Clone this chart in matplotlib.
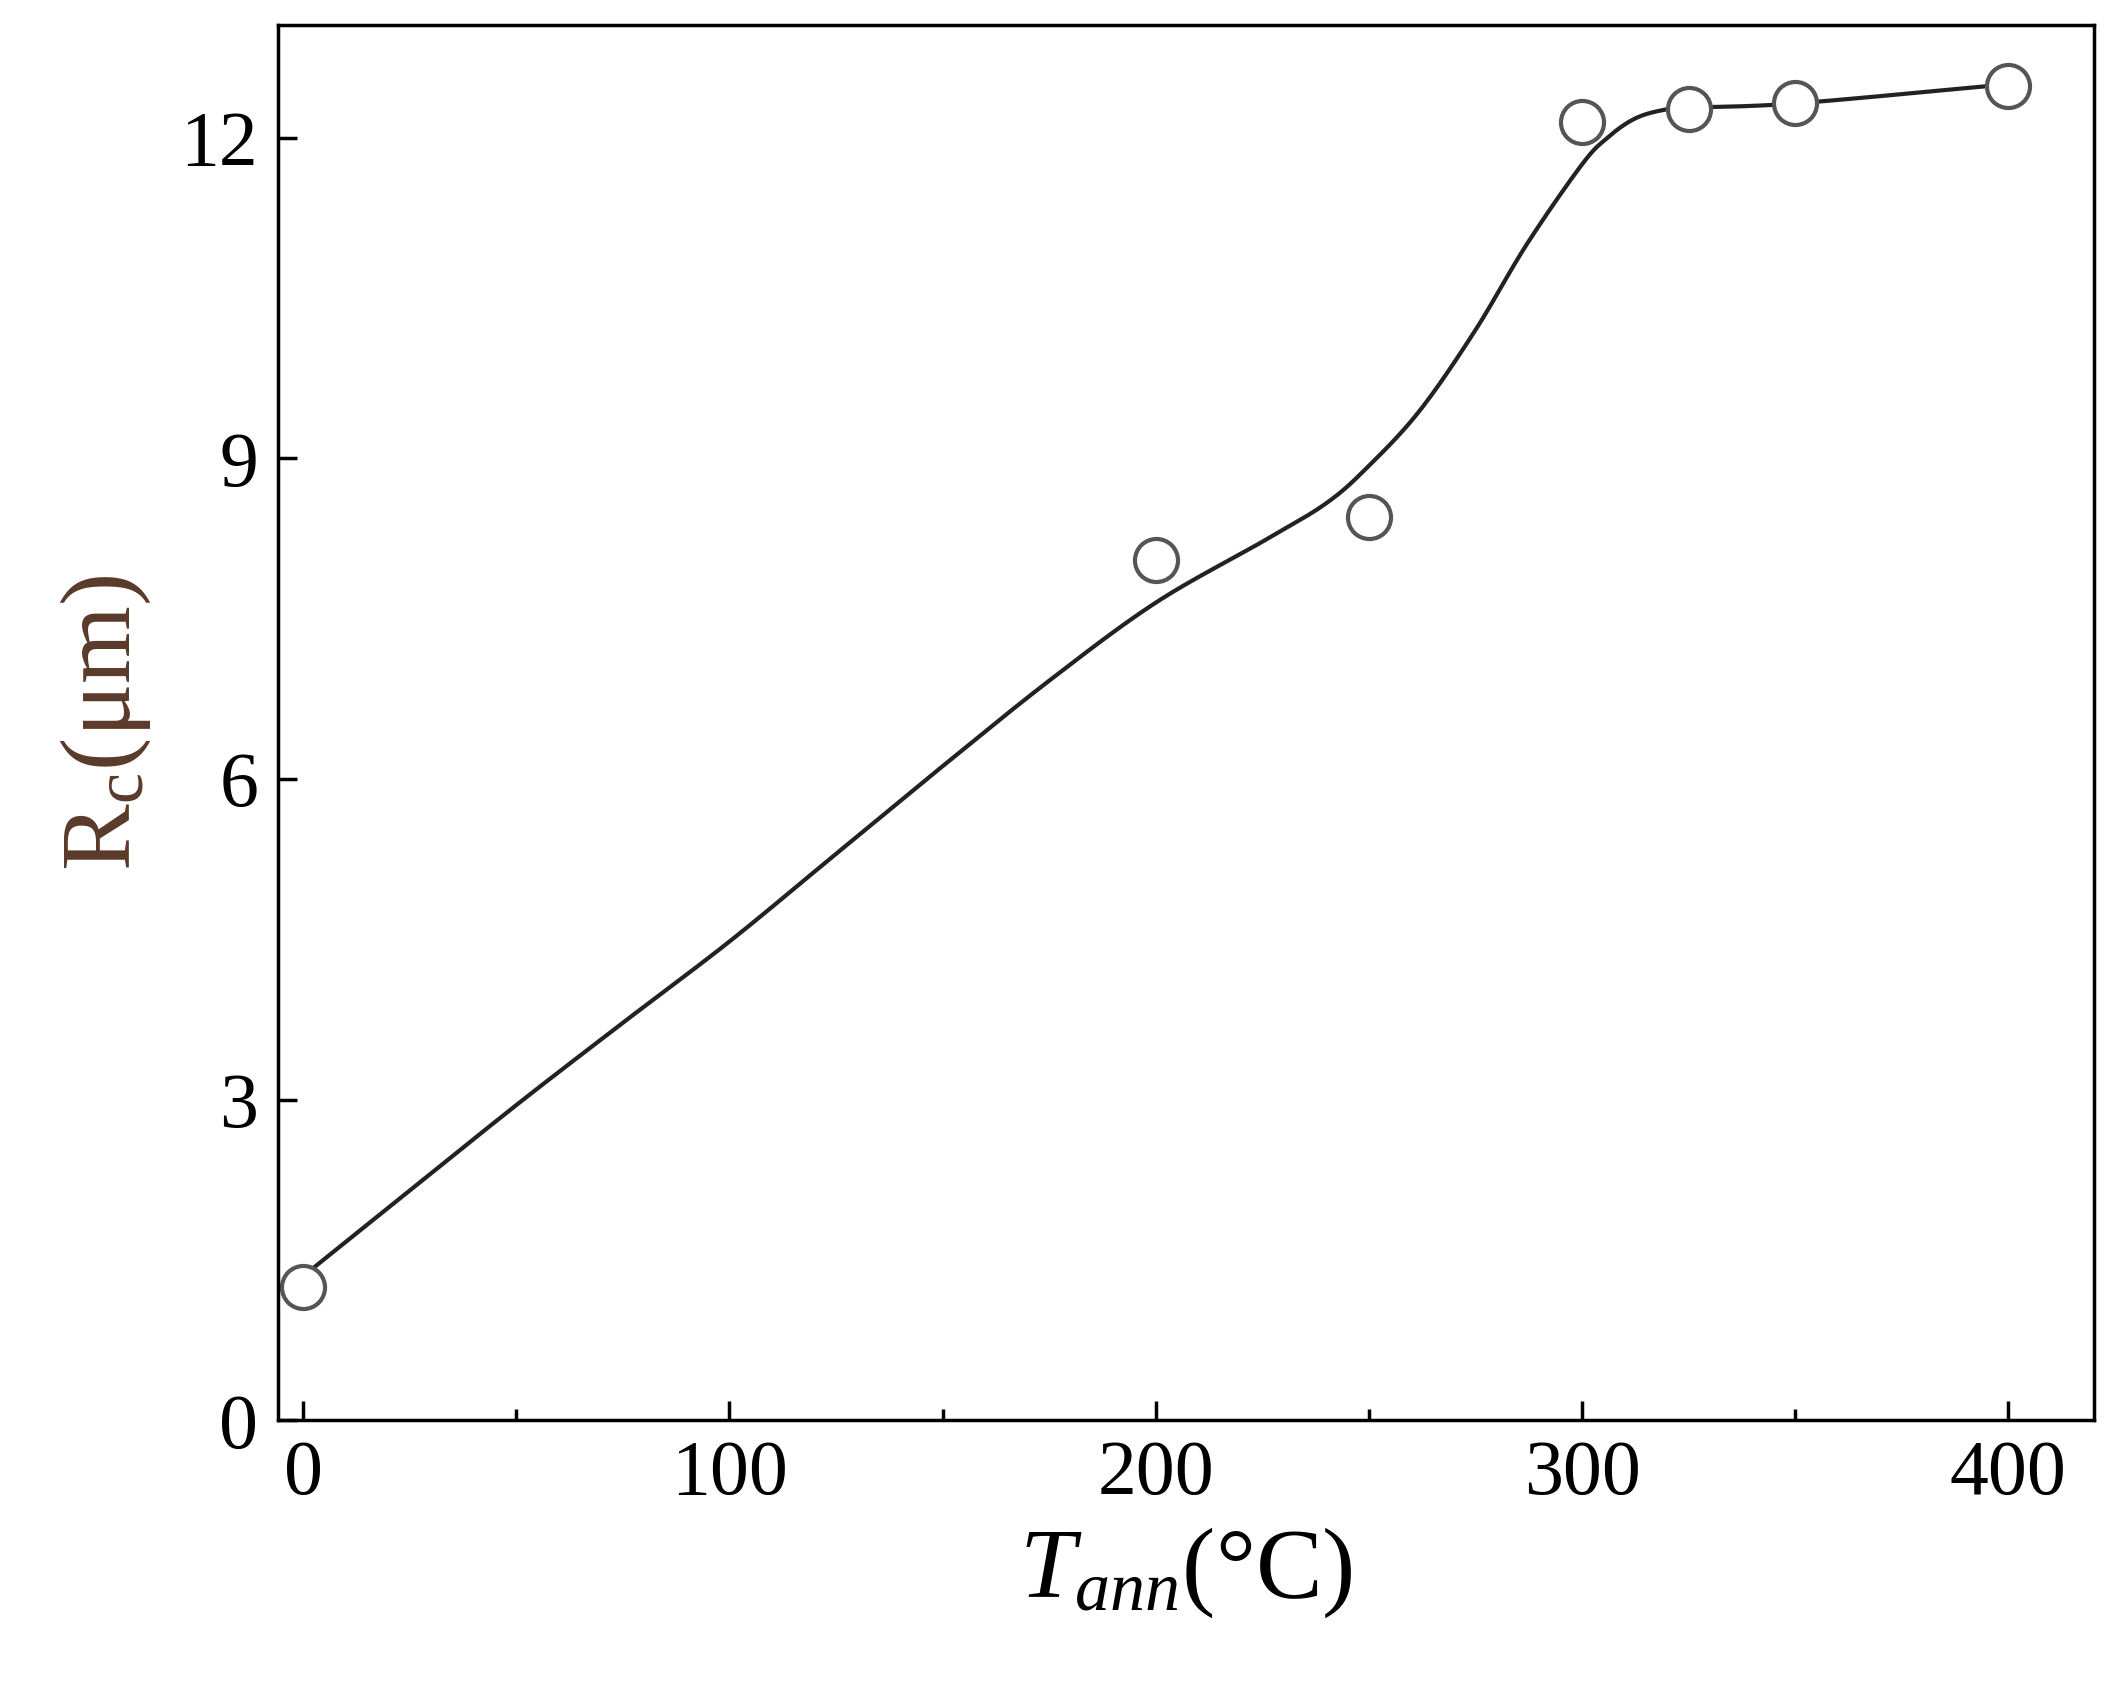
import numpy as np
import matplotlib
matplotlib.use("Agg")
import matplotlib.pyplot as plt
from matplotlib.ticker import MultipleLocator

T_data = [0, 200, 250, 300, 325, 350, 400]
Rc_data = [1.25, 8.05, 8.45, 12.15, 12.27, 12.32, 12.48]

T_fit = [0, 25, 50, 75, 100, 125, 150, 175, 200, 225, 240, 250, 262, 275, 287, 300, 306, 312, 318, 325, 350, 400]
Rc_fit = [1.35, 2.15, 2.95, 3.72, 4.48, 5.3, 6.12, 6.92, 7.65, 8.22, 8.58, 8.93, 9.45, 10.2, 11.0, 11.75, 12.0, 12.17, 12.25, 12.28, 12.32, 12.5]

def catmull(x, y, n=20):
    x = np.asarray(x, float); y = np.asarray(y, float)
    px = np.concatenate([[2*x[0]-x[1]], x, [2*x[-1]-x[-2]]])
    py = np.concatenate([[2*y[0]-y[1]], y, [2*y[-1]-y[-2]]])
    ox, oy = [], []
    t = np.linspace(0, 1, n, endpoint=False)
    for i in range(1, len(px)-2):
        for arr, out in ((px, ox), (py, oy)):
            p0, p1, p2, p3 = arr[i-1:i+3]
            out.extend(0.5*((2*p1) + (-p0+p2)*t + (2*p0-5*p1+4*p2-p3)*t**2 + (-p0+3*p1-3*p2+p3)*t**3))
    ox.append(x[-1]); oy.append(y[-1])
    return ox, oy

plt.rcParams['font.family'] = ['Liberation Serif']
plt.rcParams['mathtext.fontset'] = 'custom'
plt.rcParams['mathtext.it'] = 'Liberation Serif:italic'
plt.rcParams['mathtext.rm'] = 'Liberation Serif'

fig = plt.figure(figsize=(21.19, 16.93), dpi=100)
ax = fig.add_axes([0.131, 0.161, 0.857, 0.824])
cx, cy = catmull(T_fit, Rc_fit)
ax.plot(cx, cy, color='#222222', lw=3)
ax.plot(T_data, Rc_data, 'o', ms=31, mfc='white', mec='#555555', mew=3)
ax.set_xlim(-6, 420)
ax.set_ylim(0, 13.05)
ax.xaxis.set_major_locator(MultipleLocator(100))
ax.xaxis.set_minor_locator(MultipleLocator(50))
ax.yaxis.set_major_locator(MultipleLocator(3))
ax.tick_params(which='both', direction='in', labelsize=56, width=2.5)
ax.tick_params(which='major', length=14, pad=14)
ax.tick_params(which='minor', length=8)
for s in ax.spines.values():
    s.set_linewidth(2.5)
ax.set_xlabel(r'$T_{ann}$(°C)', fontsize=72, labelpad=10)
ax.set_ylabel(r'R$_\mathrm{c}$(μm)', fontsize=72, color='#5a3a2a', labelpad=20)
fig.savefig('out.png', dpi=100)
